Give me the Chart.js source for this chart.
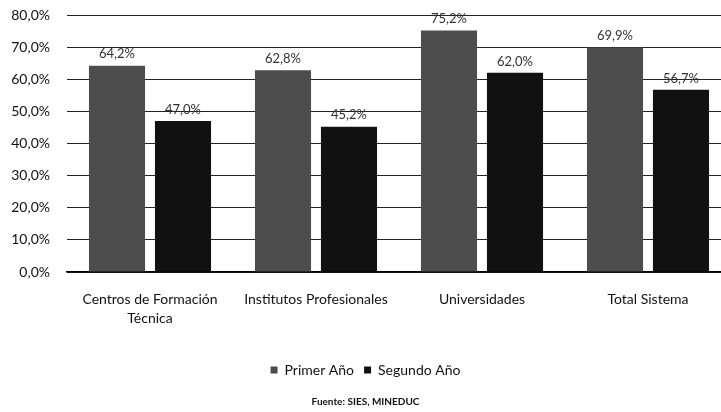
<!DOCTYPE html>
<html>
<head>
<meta charset="utf-8">
<script src="https://cdn.jsdelivr.net/npm/chart.js@4.4.0/dist/chart.umd.min.js"></script>
<style>
  html, body { margin: 0; padding: 0; background: #fff; overflow: hidden; }
  #wrap { width: 731px; height: 412px; position: relative; }
</style>
</head>
<body>
<div id="wrap"><canvas id="chart"></canvas></div>
<script>
const categories = [
    ['Centros de Formación', 'Técnica'],
    'Institutos Profesionales',
    'Universidades',
    'Total Sistema'
];
const primerAno = [64.2, 62.8, 75.2, 69.9];
const segundoAno = [47.0, 45.2, 62.0, 56.7];
const seriesNames = ['Primer Año', 'Segundo Año'];
const yTicks = [0, 10, 20, 30, 40, 50, 60, 70, 80];

const fontFamily = 'Lato, "Open Sans", sans-serif';

// draws the value above each bar, e.g. "64,2%"
const barLabels = {
    id: 'barLabels',
    afterDatasetsDraw(chart) {
        const ctx = chart.ctx;
        ctx.save();
        ctx.font = '13px ' + fontFamily;
        ctx.fillStyle = '#333';
        ctx.textAlign = 'center';
        ctx.textBaseline = 'bottom';
        chart.data.datasets.forEach((ds, i) => {
            chart.getDatasetMeta(i).data.forEach((bar, j) => {
                const txt = ds.data[j].toFixed(1).replace('.', ',') + '%';
                ctx.fillText(txt, bar.x, bar.y - 5);
            });
        });
        ctx.restore();
    }
};

new Chart(document.getElementById('chart'), {
    type: 'bar',
    data: {
        labels: categories,
        datasets: [
            {
                label: seriesNames[0],
                data: primerAno,
                backgroundColor: '#4d4d4d',
                categoryPercentage: 0.795,
                barPercentage: 0.85
            },
            {
                label: seriesNames[1],
                data: segundoAno,
                backgroundColor: '#111',
                categoryPercentage: 0.795,
                barPercentage: 0.85
            }
        ]
    },
    options: {
        responsive: true,
        maintainAspectRatio: false,
        animation: false,
        layout: { padding: { top: 15, left: 0, right: 0, bottom: 0 } },
        plugins: {
            legend: {
                position: 'bottom',
                labels: {
                    boxWidth: 7,
                    boxHeight: 7,
                    padding: 10,
                    color: '#111',
                    font: { family: fontFamily, size: 14 }
                }
            },
            title: {
                display: true,
                position: 'bottom',
                text: 'Fuente: SIES, MINEDUC',
                color: '#111',
                font: { family: fontFamily, size: 10, weight: 'bold' },
                padding: { top: 9, bottom: 4 }
            },
            tooltip: { enabled: false }
        },
        scales: {
            x: {
                grid: { display: false, drawTicks: false },
                border: { color: '#000', width: 1.5 },
                ticks: {
                    color: '#111',
                    padding: 18,
                    maxRotation: 0,
                    font: { family: fontFamily, size: 14, lineHeight: 1.35 }
                },
                afterFit(scale) { scale.height = 81; }
            },
            y: {
                min: 0,
                max: 80,
                afterBuildTicks(scale) { scale.ticks = yTicks.map(v => ({ value: v })); },
                grid: { color: '#222', lineWidth: 1, drawTicks: false },
                border: { display: false },
                ticks: {
                    color: '#111',
                    padding: 17,
                    font: { family: fontFamily, size: 14 },
                    callback: v => v.toFixed(1).replace('.', ',') + '%'
                },
                afterFit(scale) {
                    scale.width = 67;
                    scale.paddingTop = 0;
                    scale.paddingBottom = 0;
                }
            }
        }
    },
    plugins: [barLabels]
});
</script>
</body>
</html>
